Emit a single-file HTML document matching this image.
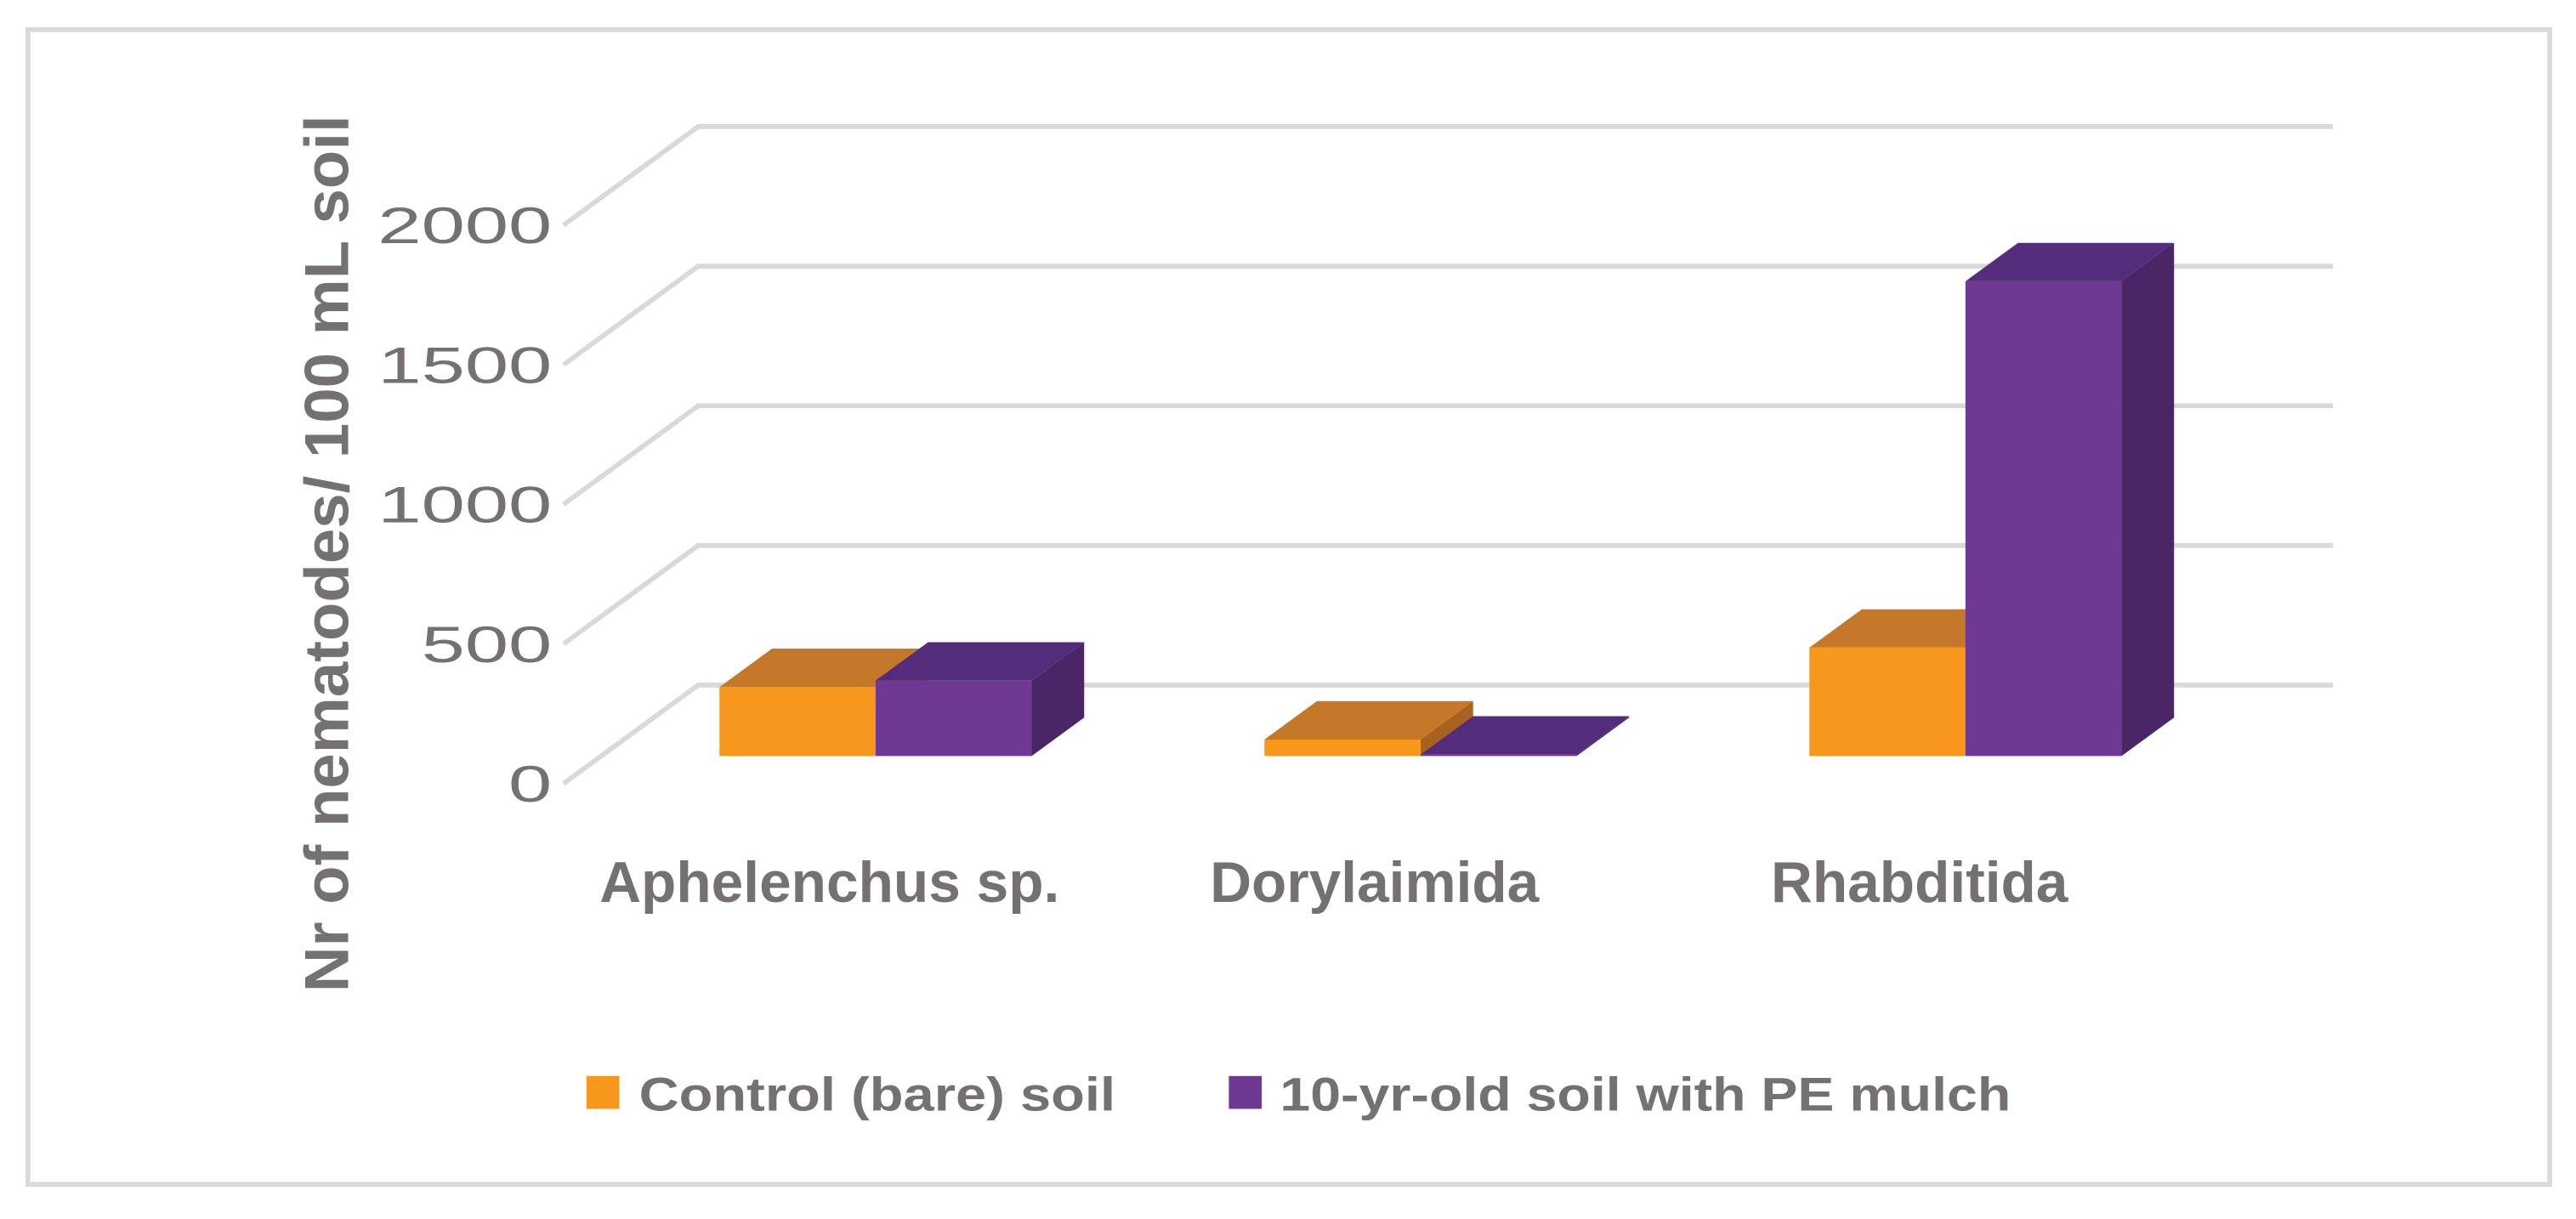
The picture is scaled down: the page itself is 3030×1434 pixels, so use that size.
<!DOCTYPE html>
<html><head><meta charset="utf-8"><style>
html,body{margin:0;padding:0;background:#fff;}
svg{display:block;}
text{font-family:"Liberation Sans",sans-serif;fill:#767171;}
</style></head><body>
<svg id="chart" width="3030" height="1434" viewBox="0 0 1568 742" xmlns="http://www.w3.org/2000/svg">
<rect x="17" y="18" width="1535" height="703" fill="#fff" stroke="#d9d9d9" stroke-width="3"/>
<g id="grid"></g>
<g id="bars"></g>
<g id="labels"></g>
<text transform="translate(212,337) rotate(-90)" text-anchor="middle" font-size="38" font-weight="bold" textLength="534" lengthAdjust="spacingAndGlyphs">Nr of nematodes/ 100 mL soil</text>
<g>
<rect x="357" y="655" width="20" height="20" fill="#F7981D"/>
<text x="389" y="676" font-size="29" font-weight="bold" textLength="290" lengthAdjust="spacingAndGlyphs">Control (bare) soil</text>
<rect x="748" y="655" width="20" height="20" fill="#6F3893"/>
<text x="779" y="676" font-size="29" font-weight="bold" textLength="445" lengthAdjust="spacingAndGlyphs">10-yr-old soil with PE mulch</text>
</g>
</svg>
<script>
const categories = ["Aphelenchus sp.", "Dorylaimida", "Rhabditida"];
const controlValues = [247, 59, 388];
const mulchValues = [270, 5, 1700];
const yTicks = [0, 500, 1000, 1500, 2000];
const seriesNames = ["control", "pe-mulch"];

const NS = "http://www.w3.org/2000/svg";
const X0 = 343, Y0 = 477, DX = 82, DY = 60, PXV = 85 / 500, BAND = 331.7, BW = 95, PAD = 72;
const D1 = 0.28, D2 = 0.67;
function px(x, d) { return x + DX * d; }
function py(v, d) { return Y0 - DY * d - v * PXV; }
function mk(tag, attrs, parent) {
  const e = document.createElementNS(NS, tag);
  for (const k in attrs) e.setAttribute(k, attrs[k]);
  parent.appendChild(e);
  return e;
}
const grid = document.getElementById("grid");
const bars = document.getElementById("bars");
const labels = document.getElementById("labels");
const plotRight = X0 + BAND * 3;

yTicks.forEach(function (t) {
  const g = mk("polyline", {
    points: px(X0, 0) + "," + py(t, 0) + " " + px(X0, 1) + "," + py(t, 1) + " " + px(plotRight, 1) + "," + py(t, 1),
    fill: "none", stroke: "#d9d9d9", "stroke-width": 3
  }, grid);
  
  
  const s = String(t);
  const tx = mk("text", { x: 336, y: py(t, 0) + 11, "text-anchor": "end", "font-size": 31, textLength: 26.5 * s.length, lengthAdjust: "spacingAndGlyphs" }, labels);
  tx.textContent = s;
  
  
});

const colors = [
  { front: "#F7981D", top: "#C5772A", side: "#A9611F" },
  { front: "#6F3893", top: "#532C7B", side: "#4A2667" }
];
function drawBar(x, v, c, name) {
  const g = mk("g", {}, bars);
  
  
  const xl = px(x, D1), xr = px(x + BW, D1), xl2 = px(x, D2), xr2 = px(x + BW, D2);
  const yb = py(0, D1), yt = py(v, D1), yb2 = py(0, D2), yt2 = py(v, D2);
  mk("polygon", { points: xr + "," + yb + " " + xr2 + "," + yb2 + " " + xr2 + "," + yt2 + " " + xr + "," + yt, fill: c.side }, g);
  mk("polygon", { points: xl + "," + yt + " " + xl2 + "," + yt2 + " " + xr2 + "," + yt2 + " " + xr + "," + yt, fill: c.top }, g);
  mk("rect", { x: xl, y: yt, width: xr - xl, height: Math.max(0, yb - yt), fill: c.front }, g);
}
categories.forEach(function (cat, i) {
  const bx = X0 + BAND * i + PAD;
  drawBar(bx, controlValues[i], colors[0], "bar-control-" + i);
  drawBar(bx + BW, mulchValues[i], colors[1], "bar-pe-mulch-" + i);
  const t = mk("text", { x: px(bx + BW, D1) - 28, y: 549, "text-anchor": "middle", "font-size": 35, "font-weight": "bold" }, labels);
  t.textContent = cat;
  
  
});
</script>
</body></html>
